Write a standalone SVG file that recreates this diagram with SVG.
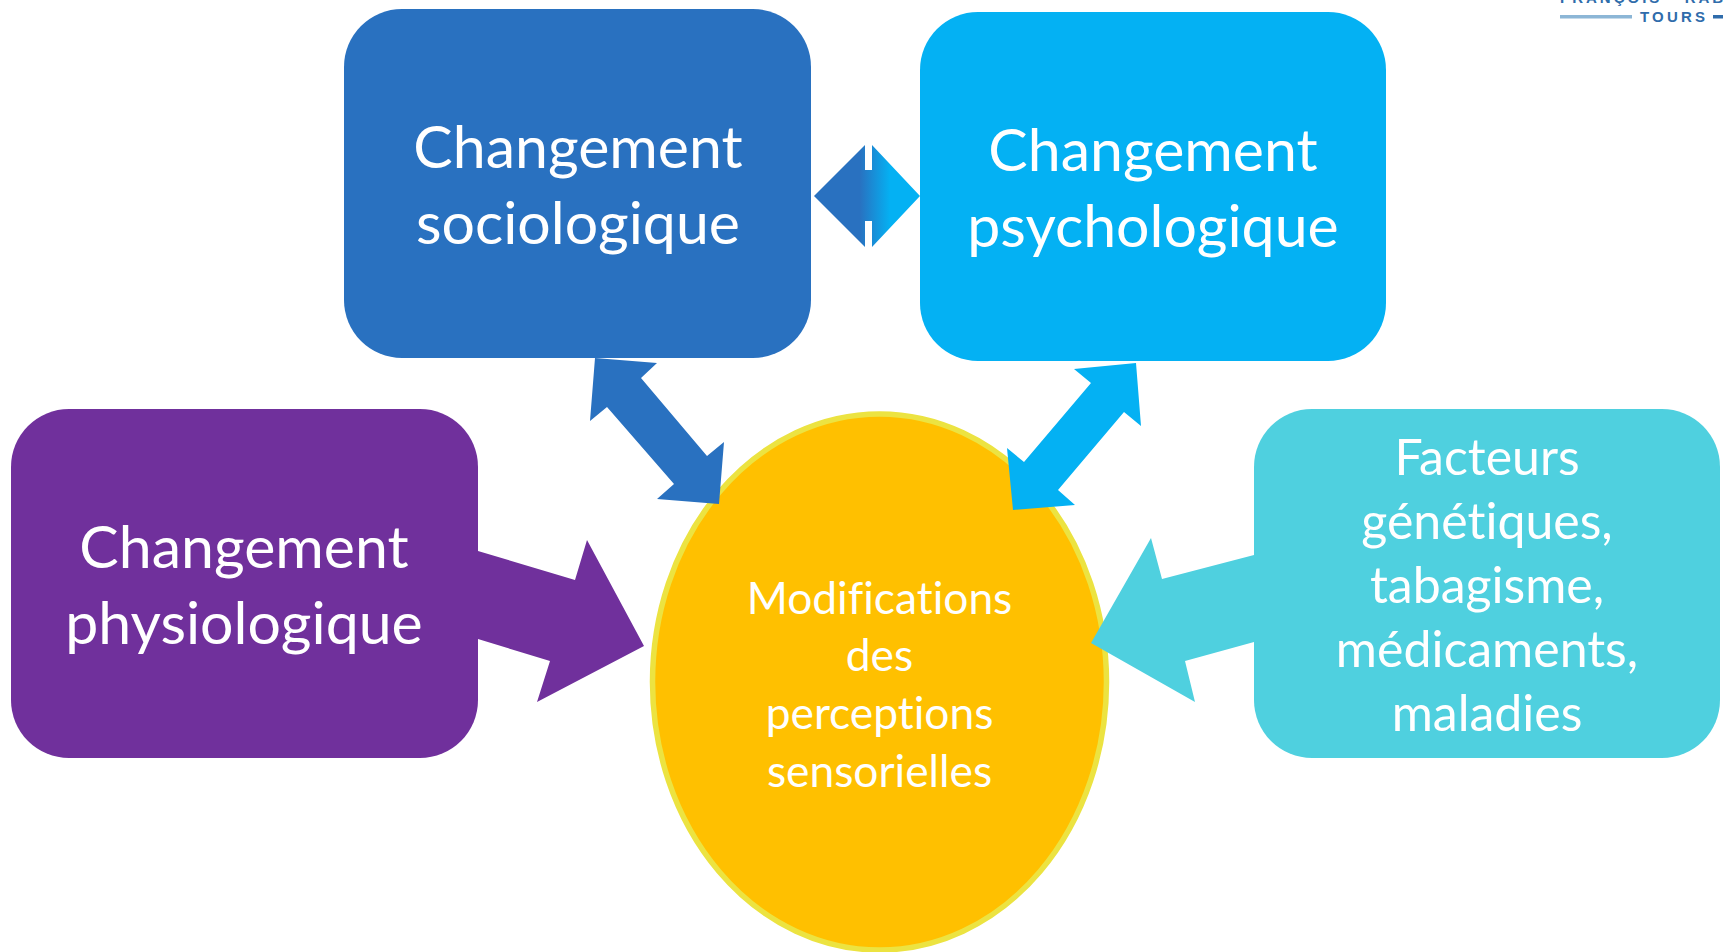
<svg xmlns="http://www.w3.org/2000/svg" width="1723" height="952" viewBox="0 0 1723 952">
<style>
text{font-family:Lato,"Open Sans","Liberation Sans",sans-serif;fill:#fff;text-anchor:middle;font-variant-ligatures:none}
.b{font-size:59px}
.f{font-size:50px}
.m{font-size:44.300px}
.l{font-family:"Liberation Sans",sans-serif;font-weight:bold;fill:#2f6cab;text-anchor:start}
</style>
<defs>
<linearGradient id="g" gradientUnits="userSpaceOnUse" x1="814" y1="0" x2="920" y2="0">
<stop offset="0.43" stop-color="#2971c0"/><stop offset="0.72" stop-color="#04b1f3"/>
</linearGradient>
</defs>
<rect width="1723" height="952" fill="#fff"/>
<g id="logo">
<text class="l" x="1560" y="3" style="font-size:15px;letter-spacing:3px">FRANÇOIS - RABELAIS</text>
<rect x="1560" y="15" width="72" height="3.500" fill="#8cb6d6"/>
<rect x="1713" y="15" width="10" height="3.500" fill="#2f6cab"/>
<text class="l" x="1640" y="22" style="font-size:15px;letter-spacing:3.200px">TOURS</text>
</g>
<g id="n-centre">
<ellipse cx="879.500" cy="682" rx="227" ry="268" fill="#ffc000" stroke="#ece341" stroke-width="5.500"/>
<text class="m" x="879.500" y="614">Modifications</text>
<text class="m" x="879.500" y="671">des</text>
<text class="m" x="879.500" y="729">perceptions</text>
<text class="m" x="879.500" y="787">sensorielles</text>
</g>
<g id="n-socio">
<rect x="344" y="9" width="467" height="349" rx="58" fill="#2971c0"/>
<text class="b" x="578" y="168">Changement</text>
<text class="b" x="578" y="244">sociologique</text>
</g>
<g id="n-psycho">
<rect x="920" y="12" width="466" height="349" rx="58" fill="#04b1f3"/>
<text class="b" x="1153" y="171">Changement</text>
<text class="b" x="1153" y="247">psychologique</text>
</g>
<g id="n-physio">
<rect x="11" y="409" width="467" height="349" rx="58" fill="#70309c"/>
<text class="b" x="244" y="568">Changement</text>
<text class="b" x="244" y="644">physiologique</text>
</g>
<g id="n-facteurs">
<rect x="1254" y="409" width="466" height="349" rx="58" fill="#4fd0df"/>
<text class="f" x="1487" y="475">Facteurs</text>
<text class="f" x="1487" y="539">génétiques,</text>
<text class="f" x="1487" y="603">tabagisme,</text>
<text class="f" x="1487" y="667">médicaments,</text>
<text class="f" x="1487" y="731">maladies</text>
</g>
<g id="connectors">
<polygon fill="#70309c" points="478,551 575,580 587,540 644,646 537,702 550,661 478,639"/>
<polygon fill="#4fd0df" points="1254,555 1162,579 1151,538 1091,643 1195,702 1185,661 1254,642"/>
<polygon fill="#2971c0" points="595,358 657,363 641,378 707,456 724,442 719,504 657,499 674,484 607,407 590,421"/>
<polygon fill="#04b1f3" points="1136,363 1074,369 1091,383 1024,462 1007,448 1013,510 1075,505 1058,490 1124,412 1141,426"/>
<polygon fill="url(#g)" points="814,196 865,145 865,170 872,170 872,145 920,196 872,247 872,221 865,221 865,247"/>
</g>
</svg>
